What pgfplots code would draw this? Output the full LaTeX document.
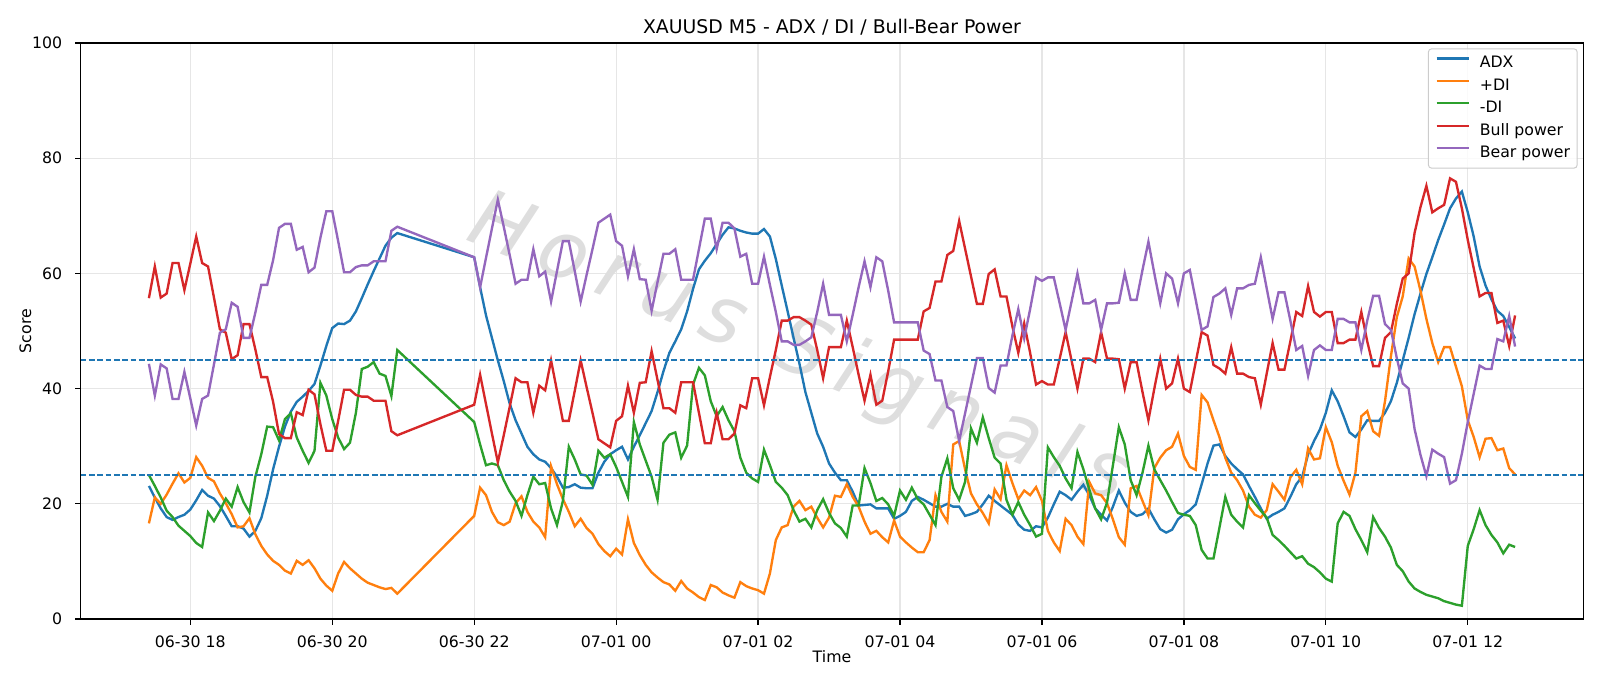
\documentclass[border=0pt]{standalone}
\usepackage{fontspec}
\setmainfont{DejaVu Sans}
\newfontfamily\wmfont[LetterSpace=18]{DejaVu Sans}
\usepackage{pgfplots}
\pgfplotsset{compat=1.18}
\usepackage{pgfplotstable}

\definecolor{c0}{HTML}{1F77B4}
\definecolor{c1}{HTML}{FF7F0E}
\definecolor{c2}{HTML}{2CA02C}
\definecolor{c3}{HTML}{D62728}
\definecolor{c4}{HTML}{9467BD}
\definecolor{gridgray}{HTML}{E6E6E6}
\definecolor{legframe}{HTML}{CCCCCC}

% n = 5-minute steps since 06-30 00:00
\pgfplotstableread{
n adx pdi mdi bull bear
209 23.1 16.6 25.0 55.7 44.3
210 21.1 21.1 23.1 61.2 38.8
211 19.2 20.0 21.1 55.8 44.2
212 17.7 21.6 18.8 56.5 43.5
213 17.2 23.5 17.7 61.8 38.2
214 17.7 25.3 16.2 61.8 38.2
215 18.1 23.7 15.3 57.1 42.9
216 19.0 24.5 14.4 61.7 38.3
217 20.6 28.1 13.2 66.4 33.6
218 22.4 26.6 12.5 61.8 38.2
219 21.4 24.5 18.5 61.2 38.8
220 20.9 23.9 17.0 55.8 44.2
221 19.6 21.8 18.8 50.3 49.7
222 17.9 20.1 20.9 49.7 50.3
223 16.1 18.2 19.5 45.1 54.9
224 16.1 15.9 22.9 45.8 54.2
225 15.7 16.1 20.3 51.2 48.8
226 14.3 17.5 18.5 51.2 48.8
227 15.3 14.7 24.7 46.8 53.2
228 17.5 12.7 28.6 42.0 58.0
229 21.4 11.2 33.4 42.0 58.0
230 26.0 10.1 33.3 37.7 62.3
231 29.9 9.4 31.0 32.1 67.9
232 33.4 8.4 34.7 31.4 68.6
233 36.0 7.9 35.7 31.4 68.6
234 37.7 10.1 31.5 35.9 64.1
235 38.6 9.4 29.2 35.4 64.6
236 39.6 10.2 27.1 39.8 60.2
237 40.8 8.8 29.2 39.0 61.0
238 44.0 7.0 41.0 33.8 66.2
239 47.4 5.8 38.8 29.2 70.8
240 50.5 4.9 34.7 29.2 70.8
241 51.3 7.9 31.5 34.4 65.6
242 51.2 9.9 29.5 39.8 60.2
243 51.8 8.8 30.6 39.8 60.2
244 53.4 7.9 35.8 38.9 61.1
245 55.7 7.0 43.4 38.6 61.4
246 58.1 6.3 43.8 38.6 61.4
247 60.4 5.9 44.6 37.9 62.1
248 62.6 5.5 42.6 37.9 62.1
249 64.8 5.2 42.2 37.9 62.1
250 66.2 5.4 38.7 32.6 67.4
251 67.0 4.4 46.7 31.9 68.1
264 62.8 17.9 34.2 37.2 62.8
265 57.6 22.8 30.3 42.4 57.6
266 52.7 21.5 26.7 37.3 62.7
267 48.8 18.6 27.0 32.2 67.8
268 44.9 16.8 26.7 27.2 72.8
269 41.3 16.3 24.1 31.9 68.1
270 37.4 16.9 22.1 36.8 63.2
271 34.5 20.1 20.5 41.8 58.2
272 32.2 21.3 17.9 41.1 58.9
273 29.9 18.6 21.5 41.1 58.9
274 28.6 16.9 24.7 35.8 64.2
275 27.7 15.9 23.4 40.5 59.5
276 27.3 14.2 23.6 39.7 60.3
277 26.2 26.5 19.2 44.9 55.1
278 24.7 23.4 16.3 39.6 60.4
279 22.8 20.8 20.5 34.4 65.6
280 22.9 18.6 29.9 34.4 65.6
281 23.4 16.1 27.7 39.6 60.4
282 22.8 17.4 25.1 44.9 55.1
283 22.7 15.8 24.9 40.3 59.7
284 22.7 14.8 23.3 35.8 64.2
285 25.4 13.0 29.2 31.2 68.8
286 27.3 11.8 28.0 30.5 69.5
287 28.6 10.9 28.6 29.8 70.2
288 29.3 12.2 26.4 34.4 65.6
289 29.9 11.2 23.8 35.2 64.8
290 27.7 17.3 21.2 40.5 59.5
291 29.9 13.2 34.2 35.8 64.2
292 31.9 11.1 30.3 41.0 59.0
293 34.0 9.4 27.5 41.1 58.9
294 36.1 8.1 24.7 46.5 53.5
295 39.4 7.2 20.7 41.5 58.5
296 43.0 6.4 30.6 36.6 63.4
297 46.2 6.0 32.0 36.6 63.4
298 48.2 4.9 32.4 35.8 64.2
299 50.3 6.6 28.0 41.1 58.9
300 53.4 5.3 30.1 41.1 58.9
301 57.3 4.6 40.7 41.1 58.9
302 60.7 3.8 43.6 35.8 64.2
303 62.2 3.3 42.3 30.5 69.5
304 63.5 5.9 37.8 30.5 69.5
305 65.1 5.5 35.2 35.8 64.2
306 66.7 4.6 36.8 31.2 68.8
307 68.0 4.1 34.5 31.2 68.8
308 67.8 3.7 32.6 32.2 67.8
309 67.4 6.4 28.0 37.1 62.9
310 67.1 5.7 25.4 36.6 63.4
311 66.9 5.3 24.4 41.8 58.2
312 66.9 5.0 23.8 41.8 58.2
313 67.7 4.4 29.4 37.1 62.9
314 66.4 7.9 26.7 42.0 58.0
315 62.5 13.7 23.8 46.7 53.3
316 57.9 15.9 22.8 51.8 48.2
317 53.4 16.3 21.5 51.8 48.2
318 48.8 19.5 18.9 52.4 47.6
319 44.3 20.5 16.9 52.4 47.6
320 39.4 18.9 17.4 51.8 48.2
321 35.8 19.5 15.9 51.1 48.9
322 32.2 17.6 18.9 46.7 53.3
323 29.9 15.9 20.8 41.8 58.2
324 27.0 17.6 18.4 47.2 52.8
325 25.4 21.4 16.6 47.2 52.8
326 24.1 21.2 15.8 47.2 52.8
327 24.1 23.4 14.3 51.8 48.2
328 22.1 21.2 19.7 47.2 52.8
329 19.7 19.5 19.7 42.4 57.6
330 19.8 16.9 26.2 37.9 62.1
331 19.9 14.8 23.6 42.4 57.6
332 19.2 15.3 20.5 37.2 62.8
333 19.2 14.2 21.0 37.9 62.1
334 19.2 13.3 19.9 43.0 57.0
335 17.4 17.1 17.9 48.5 51.5
336 17.9 14.3 22.3 48.5 51.5
337 18.6 13.3 20.7 48.5 51.5
338 20.5 12.4 22.8 48.5 51.5
339 21.2 11.6 20.8 48.5 51.5
340 20.7 11.6 19.9 53.4 46.6
341 20.1 13.7 18.1 54.0 46.0
342 19.5 21.5 16.3 58.6 41.4
343 19.5 18.6 24.7 58.6 41.4
344 20.0 16.9 27.9 63.2 36.8
345 19.5 30.3 22.7 63.9 36.1
346 19.5 30.9 20.7 69.1 30.9
347 17.9 26.0 23.8 64.3 35.7
348 18.2 21.8 33.1 59.5 40.5
349 18.6 19.9 30.6 54.7 45.3
350 19.9 18.4 35.0 54.7 45.3
351 21.4 16.6 31.4 59.9 40.1
352 20.5 22.5 28.0 60.7 39.3
353 19.7 20.8 27.0 56.0 44.0
354 18.9 26.7 20.7 56.0 44.0
355 18.1 23.6 18.1 50.8 49.2
356 16.4 20.8 20.3 46.2 53.8
357 15.5 22.3 18.1 51.3 48.7
358 15.3 21.5 16.3 46.2 53.8
359 16.1 22.9 14.3 40.7 59.3
360 15.9 20.5 14.8 41.3 58.7
361 17.6 15.3 29.8 40.7 59.3
362 19.9 13.3 28.1 40.7 59.3
363 22.1 11.8 26.6 45.2 54.8
364 21.5 17.4 24.4 49.8 50.2
365 20.7 16.3 22.7 44.9 55.1
366 22.1 14.3 29.0 40.0 60.0
367 23.3 13.0 26.0 45.2 54.8
368 21.5 23.8 22.5 45.2 54.8
369 19.2 21.8 19.2 44.6 55.4
370 18.1 21.5 17.3 49.8 50.2
371 17.1 20.1 20.2 45.2 54.8
372 19.5 17.3 26.7 45.2 54.8
373 22.3 14.2 33.3 45.1 54.9
374 20.2 12.9 30.3 40.0 60.0
375 18.6 22.7 24.1 44.6 55.4
376 17.9 23.1 21.5 44.6 55.4
377 18.2 20.5 25.4 39.4 60.6
378 19.2 18.0 30.1 34.5 65.5
379 17.3 26.2 26.0 40.0 60.0
380 15.6 28.0 24.1 45.2 54.8
381 15.0 29.3 22.3 40.0 60.0
382 15.5 29.9 20.3 40.9 59.1
383 17.3 32.2 18.4 45.2 54.8
384 18.2 28.3 18.1 40.0 60.0
385 18.9 26.4 17.9 39.4 60.6
386 19.9 25.9 16.3 44.6 55.4
387 23.4 38.9 12.0 49.8 50.2
388 27.0 37.6 10.5 49.2 50.8
389 30.1 34.5 10.5 44.1 55.9
390 30.3 31.6 15.8 43.5 56.5
391 28.3 28.0 21.2 42.6 57.4
392 27.0 25.4 18.1 47.2 52.8
393 26.0 24.1 16.9 42.6 57.4
394 25.1 22.3 15.9 42.6 57.4
395 23.1 19.5 21.5 42.0 58.0
396 21.2 18.1 20.1 41.8 58.2
397 19.2 17.6 18.8 37.2 62.8
398 17.4 18.9 17.6 42.6 57.4
399 18.1 23.4 14.6 47.9 52.1
400 18.6 22.1 13.7 43.3 56.7
401 19.2 20.7 12.7 43.3 56.7
402 21.2 24.6 11.6 48.2 51.8
403 23.4 25.9 10.5 53.3 46.7
404 24.7 23.4 10.9 52.6 47.4
405 28.6 29.6 9.6 57.8 42.2
406 30.9 27.7 9.0 53.3 46.7
407 32.9 27.9 8.1 52.5 47.5
408 35.8 33.3 7.0 53.3 46.7
409 39.7 30.7 6.5 53.3 46.7
410 37.8 26.6 16.6 47.9 52.1
411 35.2 24.0 18.6 47.9 52.1
412 32.4 21.6 17.9 48.5 51.5
413 31.6 25.4 15.6 48.5 51.5
414 32.9 35.2 13.7 53.3 46.7
415 34.5 36.1 11.6 48.2 51.8
416 34.4 32.6 17.7 43.9 56.1
417 34.4 31.8 15.8 43.9 56.1
418 35.8 37.8 14.3 48.8 51.2
419 37.8 45.6 12.4 49.8 50.2
420 41.0 52.4 9.4 54.7 45.3
421 44.9 56.0 8.3 59.1 40.9
422 48.8 62.6 6.5 60.0 40.0
423 52.9 61.2 5.3 67.0 33.0
424 56.5 57.0 4.7 71.5 28.5
425 59.9 52.1 4.2 75.2 24.8
426 62.8 47.9 3.9 70.6 29.4
427 65.8 44.6 3.6 71.3 28.7
428 68.5 47.2 3.1 71.9 28.1
429 71.3 47.2 2.8 76.5 23.5
430 73.0 43.8 2.5 75.9 24.1
431 74.2 40.4 2.3 71.3 28.7
432 70.6 34.5 12.7 65.8 34.2
433 66.4 31.6 15.6 60.9 39.1
434 61.2 28.1 18.9 56.0 44.0
435 57.9 31.3 16.3 56.6 43.4
436 55.5 31.4 14.6 56.6 43.4
437 53.5 29.3 13.3 51.4 48.6
438 52.6 29.6 11.4 51.8 48.2
439 50.7 26.2 12.9 47.4 52.6
440 48.7 25.1 12.5 52.7 47.3
}\data

\newcommand{\tickfont}{\fontsize{7.9pt}{9.5pt}\selectfont}

\begin{document}
\begin{tikzpicture}
\useasboundingbox (0,0) rectangle (800bp,343bp);
\begin{axis}[
  at={(40.3bp,33.5bp)}, anchor=south west,
  width=751.4bp, height=288bp, scale only axis,
  xmin=197.45, xmax=451.55, ymin=0, ymax=100,
  xtick={216,240,264,288,312,336,360,384,408,432},
  xticklabels={06-30 18,06-30 20,06-30 22,07-01 00,07-01 02,07-01 04,07-01 06,07-01 08,07-01 10,07-01 12},
  ytick={0,20,40,60,80,100},
  tick align=outside, tick pos=left,
  major tick length=2.75bp,
  every tick/.style={black, line width=0.63bp},
  axis line style={line width=0.63bp},
  grid=major, major grid style={color=gridgray, line width=0.63bp},
  /pgf/number format/assume math mode=true,
  ticklabel style={font=\tickfont, inner sep=0pt},
  xticklabel style={anchor=base, yshift=-11.65bp},
  yticklabel style={anchor=east, xshift=-6.3bp},
  title={XAUUSD M5 - ADX / DI / Bull-Bear Power},
  every axis title/.style={at={(0.5,1)}, anchor=base, yshift=4.85bp, font=\fontsize{9.45pt}{11pt}\selectfont},
  xlabel={Time}, ylabel={Score},
  every axis x label/.style={at={(0.5,0)}, anchor=base, yshift=-21.85bp, font=\tickfont},
  every axis y label/.style={at={(0,0.5)}, xshift=-24.7bp, rotate=90, anchor=base, font=\tickfont},
  legend style={at={(1,1)}, anchor=north east, xshift=-2.9bp, yshift=-2.7bp,
    draw=legframe, line width=0.5bp, rounded corners=1.5bp, fill=white, fill opacity=0.8, text opacity=1,
    font=\tickfont, inner xsep=3.5bp, inner ysep=3.7bp, row sep=3.8bp,
    nodes={inner sep=0pt, text height=5.8bp, text depth=1.6bp}},
  legend cell align=left,
  legend image code/.code={\draw[#1] (0bp,2.6bp) -- (16bp,2.6bp); \path[draw=none] (16bp,2.6bp) -- (21.6bp,2.6bp);},
  every axis plot/.append style={line width=1.18bp},
]
\node[rotate=-22, text=black!13, font=\wmfont\itshape\fontsize{40pt}{40pt}\selectfont] at (axis cs:318.8,46.5) {Horus Signals};
\addplot[c0] table[x=n, y=adx] {\data};
\addlegendentry{ADX}
\addplot[c1] table[x=n, y=pdi] {\data};
\addlegendentry{+DI}
\addplot[c2] table[x=n, y=mdi] {\data};
\addlegendentry{-DI}
\addplot[c3] table[x=n, y=bull] {\data};
\addlegendentry{Bull power}
\addplot[c4] table[x=n, y=bear] {\data};
\addlegendentry{Bear power}
\addplot[c0, line width=0.785bp, dash pattern=on 2.9bp off 1.26bp, forget plot] coordinates {(197.45,45) (451.55,45)};
\addplot[c0, line width=0.785bp, dash pattern=on 2.9bp off 1.26bp, forget plot] coordinates {(197.45,25) (451.55,25)};
\end{axis}
\end{tikzpicture}
\end{document}
